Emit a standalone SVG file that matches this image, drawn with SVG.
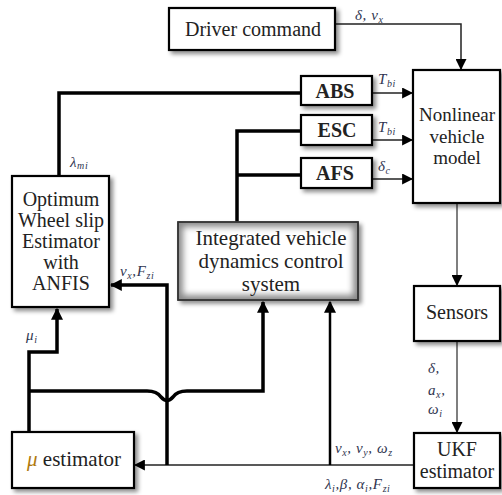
<svg xmlns="http://www.w3.org/2000/svg" width="502" height="495" viewBox="0 0 502 495">
<defs>
<filter id="sh" x="-20%" y="-20%" width="150%" height="150%">
<feDropShadow dx="3" dy="3" stdDeviation="2" flood-color="#000" flood-opacity="0.45"/>
</filter>
<filter id="blur" x="-10%" y="-10%" width="120%" height="120%">
<feGaussianBlur stdDeviation="3"/>
</filter>
<marker id="ah" viewBox="0 0 10 10" refX="9" refY="5" markerWidth="11" markerHeight="11" markerUnits="userSpaceOnUse" orient="auto">
<path d="M0,0 L10,5 L0,10 z" fill="#000"/>
</marker>
<marker id="ahs" viewBox="0 0 10 10" refX="9" refY="5" markerWidth="12" markerHeight="12" markerUnits="userSpaceOnUse" orient="auto">
<path d="M0,0 L10,5 L0,10 z" fill="#000"/>
</marker>
</defs>
<style>
.box{fill:#fff;stroke:#000;stroke-width:2.2}
.t{font-family:"Liberation Serif",serif;font-size:20px;fill:#222;text-anchor:middle}
.b{font-weight:bold}
.thick{fill:none;stroke:#000;stroke-width:3.5}
.thin{fill:none;stroke:#222;stroke-width:1.5}
.gray{fill:none;stroke:#555;stroke-width:1.5}
.m{font-family:"Liberation Serif",serif;font-style:italic;font-size:15px;fill:#2f3550;letter-spacing:0.6px}
.s{font-size:10px}
</style>
<rect width="502" height="495" fill="#fff"/>
<g id="connectors">
<path class="thin" d="M335,24 H461 V69" marker-end="url(#ah)"/>
<path class="thick" d="M59,176 V93 H301"/>
<path class="thick" d="M237,223 V131 H301"/>
<path class="thick" d="M237,175 H301"/>
<path class="thin" d="M372,93 H412" marker-end="url(#ah)"/>
<path class="thin" d="M372,140 H412" marker-end="url(#ah)"/>
<path class="thin" d="M372,179 H412" marker-end="url(#ah)"/>
<path class="gray" d="M457,203 V285" marker-end="url(#ah)"/>
<path class="gray" d="M457,341 V432" marker-end="url(#ah)"/>
<path class="thin" d="M414,465 H135" marker-end="url(#ah)"/>
<path class="thick" d="M167,465 V285 H111" marker-end="url(#ahs)"/>
<path class="thick" d="M29,432 V352 H57 V309" marker-end="url(#ahs)"/>
<path class="thick" d="M29,391 H147 Q157,391 161,397 Q167,404 173,397 Q177,391 187,391 H263 V302" marker-end="url(#ahs)"/>
<path class="thick" style="stroke-width:2.5" d="M330,465 V302" marker-end="url(#ahs)"/>
</g>
<g id="driver">
<rect class="box" x="169" y="8" width="166" height="42" filter="url(#sh)"/>
<text class="t" x="253" y="36">Driver command</text>
</g>
<g id="nonlinear">
<rect class="box" x="413" y="70" width="87" height="133" filter="url(#sh)"/>
<text class="t" style="font-size:19px" x="457" y="121">Nonlinear</text>
<text class="t" style="font-size:19px" x="457" y="143">vehicle</text>
<text class="t" style="font-size:19px" x="457" y="164">model</text>
</g>
<g id="abs">
<rect class="box" x="301" y="76" width="71" height="29" filter="url(#sh)"/>
<text class="t b" x="335" y="98">ABS</text>
</g>
<g id="esc">
<rect class="box" x="301" y="115" width="71" height="30" filter="url(#sh)"/>
<text class="t b" x="337" y="137">ESC</text>
</g>
<g id="afs">
<rect class="box" x="301" y="158" width="71" height="30" filter="url(#sh)"/>
<text class="t b" x="335" y="180">AFS</text>
</g>
<g id="optimum">
<rect class="box" x="12" y="176" width="97" height="131" filter="url(#sh)"/>
<text class="t" x="61" y="206">Optimum</text>
<text class="t" x="61" y="227">Wheel slip</text>
<text class="t" x="61" y="248">Estimator</text>
<text class="t" x="61" y="269">with</text>
<text class="t" x="61" y="290">ANFIS</text>
</g>
<g id="integrated">
<rect x="178" y="222" width="180" height="78" fill="#8a8a8a" stroke="#333" stroke-width="1.5" filter="url(#sh)"/>
<rect x="183" y="227" width="170" height="68" fill="#fff" filter="url(#blur)"/>
<rect x="178" y="222" width="180" height="78" fill="none" stroke="#333" stroke-width="1.5"/>
<text class="t" style="font-size:21px" x="271" y="245">Integrated vehicle</text>
<text class="t" style="font-size:21px" x="271" y="268">dynamics control</text>
<text class="t" style="font-size:21px" x="271" y="291">system</text>
</g>
<g id="sensors">
<rect class="box" x="414" y="286" width="86" height="55" filter="url(#sh)"/>
<text class="t" x="457" y="319">Sensors</text>
</g>
<g id="ukf">
<rect class="box" x="414" y="433" width="86" height="55" filter="url(#sh)"/>
<text class="t" x="457" y="456">UKF</text>
<text class="t" x="457" y="478">estimator</text>
</g>
<g id="mu">
<rect class="box" x="12" y="432" width="122" height="56" filter="url(#sh)"/>
<text class="t" style="font-size:21px" x="74" y="466"><tspan fill="#b07a10" font-style="italic">μ</tspan> estimator</text>
</g>
<g id="labels">
<text class="m" x="355" y="20">δ, v<tspan class="s" dy="3">x</tspan></text>
<text class="m" x="378" y="84">T<tspan class="s" dy="3">bi</tspan></text>
<text class="m" x="378" y="132">T<tspan class="s" dy="3">bi</tspan></text>
<text class="m" x="378" y="171">δ<tspan class="s" dy="3">c</tspan></text>
<text class="m" x="70" y="167">λ<tspan class="s" dy="2">mi</tspan></text>
<text class="m" x="120" y="276">v<tspan class="s" dy="3">x</tspan><tspan dy="-3">,F</tspan><tspan class="s" dy="3">zi</tspan></text>
<text class="m" x="26" y="340">μ<tspan class="s" dy="3">i</tspan></text>
<text class="m" x="428" y="373">δ,</text>
<text class="m" x="428" y="395">a<tspan class="s" dy="3">x</tspan><tspan dy="-3">,</tspan></text>
<text class="m" x="428" y="414">ω<tspan class="s" dy="3">i</tspan></text>
<text class="m" x="335" y="453">v<tspan class="s" dy="3">x</tspan><tspan dy="-3">, v</tspan><tspan class="s" dy="3">y</tspan><tspan dy="-3">, ω</tspan><tspan class="s" dy="3">z</tspan></text>
<text class="m" x="325" y="489">λ<tspan class="s" dy="3">i</tspan><tspan dy="-3">,β, α</tspan><tspan class="s" dy="3">i</tspan><tspan dy="-3">,F</tspan><tspan class="s" dy="3">zi</tspan></text>
</g>
</svg>
